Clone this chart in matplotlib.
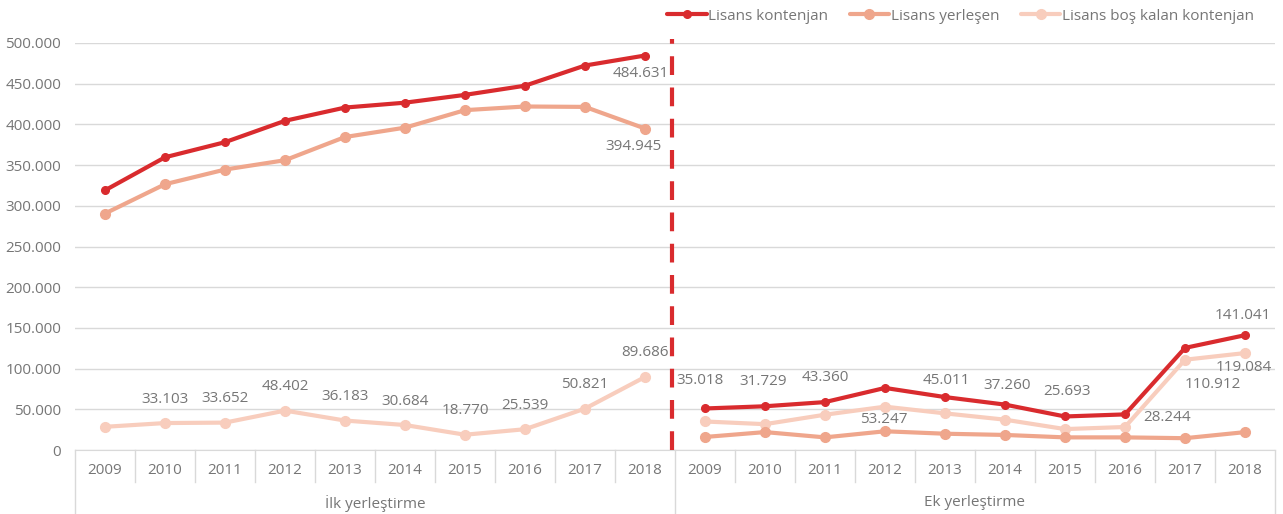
import matplotlib
matplotlib.use('Agg')
from matplotlib import pyplot as plt
from matplotlib import transforms
from matplotlib.ticker import FuncFormatter

plt.rcParams['font.family'] = ['Open Sans', 'DejaVu Sans']

years = ['2009', '2010', '2011', '2012', '2013', '2014', '2015', '2016', '2017', '2018']
groups = ['İlk yerleştirme', 'Ek yerleştirme']

ilk_kontenjan = [319000, 359603, 378152, 404402, 420683, 426684, 436270, 447539, 472321, 484631]
ilk_yerlesen = [290500, 326500, 344500, 356000, 384500, 396000, 417500, 422000, 421500, 394945]
ilk_bos = [28500, 33103, 33652, 48402, 36183, 30684, 18770, 25539, 50821, 89686]

ek_kontenjan = [51018, 53729, 58860, 76247, 65011, 55760, 41193, 43744, 125412, 141041]
ek_yerlesen = [16000, 22000, 15500, 23000, 20000, 18500, 15500, 15500, 14500, 21957]
ek_bos = [35018, 31729, 43360, 53247, 45011, 37260, 25693, 28244, 110912, 119084]

series_names = ['Lisans kontenjan', 'Lisans yerleşen', 'Lisans boş kalan kontenjan']
colors = ['#d92b2e', '#efa68c', '#f8cdbd']
text_color = '#767676'
grid_color = '#d9d9d9'

W, H = 1283, 514
fig = plt.figure(figsize=(W / 100, H / 100), dpi=100)
ax = fig.add_axes([75 / W, 64 / H, 1200 / W, 407 / H])

n = len(years)
x_ilk = list(range(n))
x_ek = list(range(n, 2 * n))

ilk = [ilk_kontenjan, ilk_yerlesen, ilk_bos]
ek = [ek_kontenjan, ek_yerlesen, ek_bos]
msizes = [5.5, 7, 7]
handles = []
for i in [2, 1, 0]:
    kw = dict(color=colors[i], lw=3, marker='o', ms=msizes[i], clip_on=False,
              solid_capstyle='round', zorder=3 + (2 - i))
    h, = ax.plot(x_ilk, ilk[i], **kw)
    ax.plot(x_ek, ek[i], **kw)
    handles.append(h)
handles = handles[::-1]

# group divider
ax.plot([n - 0.55, n - 0.55], [0, 505000], color=colors[0], lw=3,
        dashes=(4.5, 3), clip_on=False, zorder=6)

ax.set_xlim(-0.5, 2 * n - 0.5)
ax.set_ylim(0, 500000)
ax.set_yticks(range(0, 500001, 50000))
ax.yaxis.set_major_formatter(FuncFormatter(lambda v, p: f'{int(v):,}'.replace(',', '.')))
ax.grid(axis='y', color=grid_color, lw=1)
ax.set_axisbelow(True)
for s in ['top', 'right', 'left']:
    ax.spines[s].set_visible(False)
ax.spines['bottom'].set_color(grid_color)
ax.tick_params(axis='y', length=0, pad=10, labelcolor=text_color, labelsize=11)
ax.set_xticks([])

# two-level category axis
tr = transforms.blended_transform_factory(ax.transData, fig.transFigure)
for j in range(2 * n):
    ax.text(j, (H - 470) / H, years[j % n], transform=tr, ha='center', va='center',
            color=text_color, fontsize=11)
for j in range(2 * n + 1):
    bottom = 0 if j % n == 0 else (H - 482) / H
    ax.plot([j - 0.5, j - 0.5], [bottom, 64 / H], transform=tr, color=grid_color,
            lw=1, clip_on=False)
for g, name in enumerate(groups):
    ax.text(g * n + (n - 1) / 2, (H - 503) / H, name, transform=tr, ha='center',
            va='center', color=text_color, fontsize=11)

# data labels, offsets in pixels
def label(x, y, dx, dy):
    ax.annotate(f'{y:,}'.replace(',', '.'), (x, y), xytext=(dx, dy),
                textcoords='offset pixels', ha='center', va='center',
                color=text_color, fontsize=11, zorder=7)

for j in range(1, n):
    label(x_ilk[j], ilk_bos[j], 0, 24)
label(x_ilk[-1], ilk_kontenjan[-1], -4, -18)
label(x_ilk[-1], ilk_yerlesen[-1], -11, -18)

ek_offsets = [(-5, 41), (-2, 43), (0, 37), (-1, -13), (1, 33), (2, 34), (2, 38),
              (42, 10), (28, -25), (-1, -14)]
for j, (dx, dy) in enumerate(ek_offsets):
    label(x_ek[j], ek_bos[j], dx, dy)
label(x_ek[-1], ek_kontenjan[-1], -2, 20)

fig.legend(handles, series_names, loc='center right', bbox_to_anchor=(1260 / W, 1 - 16 / H),
           ncol=3, frameon=False, fontsize=11, labelcolor=text_color, handlelength=2.6,
           handletextpad=0.1, columnspacing=1.4, borderaxespad=0)

fig.savefig('out.png', dpi=100)
